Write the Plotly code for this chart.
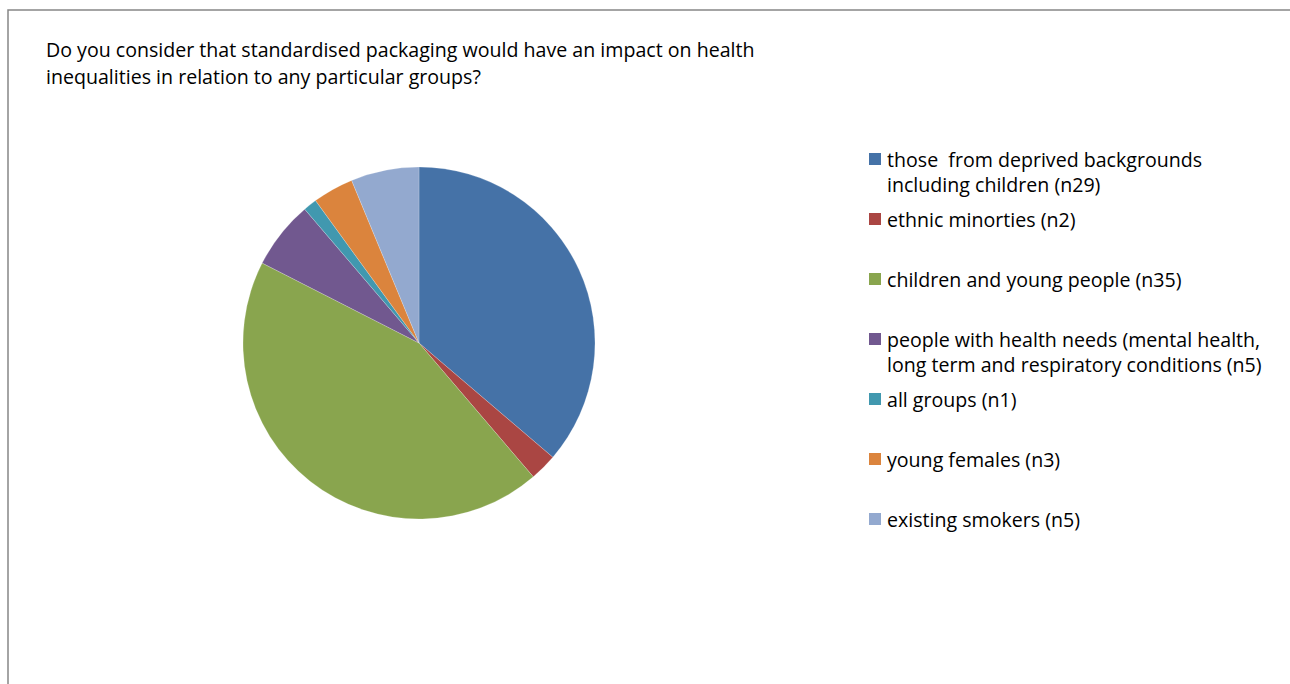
import plotly.graph_objects as go

W, H = 1290, 684

labels = [
    "those  from deprived backgrounds<br>including children (n29)",
    "ethnic minorties (n2)",
    "children and young people (n35)",
    "people with health needs (mental health,<br>long term and respiratory conditions (n5)",
    "all groups (n1)",
    "young females (n3)",
    "existing smokers (n5)",
]
values = [29, 2, 35, 5, 1, 3, 5]
colors = ["#4572A7", "#AA4643", "#89A54E", "#71588F", "#4198AF", "#DB843D", "#93A9CF"]

title_lines = ["Do you consider that standardised packaging would have an impact on health",
               "inequalities in relation to any particular groups?"]

FONT = "Open Sans"
FS = 19.6

def px(x):
    return x / W

def py(y):
    return 1 - y / H

cx, cy, r = 419, 343, 176

fig = go.Figure()
fig.add_trace(go.Pie(
    labels=labels, values=values, sort=False, direction="clockwise", rotation=0,
    marker=dict(colors=colors, line=dict(color="rgba(255,255,255,0.4)", width=0.5)),
    textinfo="none", hoverinfo="label+value", showlegend=False,
    domain=dict(x=[px(cx - r), px(cx + r)], y=[py(cy + r), py(cy - r)]),
))

shapes = [dict(type="rect", xref="paper", yref="paper",
               x0=px(8), x1=1.05, y0=-0.05, y1=py(10),
               line=dict(color="#868686", width=1.5), fillcolor="rgba(0,0,0,0)", layer="below")]
annotations = []
for line, yc in zip(title_lines, [50, 77]):
    annotations.append(dict(text=line, xref="paper", yref="paper", x=px(44), y=py(yc),
                            xanchor="left", yanchor="middle", align="left", showarrow=False,
                            font=dict(family=FONT, size=FS, color="#000000")))

leg_y = [159, 219, 279, 339, 399, 459, 519]
for lab, col, yc in zip(labels, colors, leg_y):
    shapes.append(dict(type="rect", xref="paper", yref="paper",
                       x0=px(869), x1=px(881), y0=py(yc + 6), y1=py(yc - 6),
                       fillcolor=col, line=dict(width=0)))
    annotations.append(dict(text=lab, xref="paper", yref="paper", x=px(885), y=py(yc - 15),
                            xanchor="left", yanchor="top", align="left", showarrow=False,
                            font=dict(family=FONT, size=FS, color="#000000")))

fig.update_layout(
    width=W, height=H, margin=dict(l=0, r=0, t=0, b=0),
    paper_bgcolor="white", plot_bgcolor="white",
    shapes=shapes, annotations=annotations,
)

fig.write_html("out.html")
